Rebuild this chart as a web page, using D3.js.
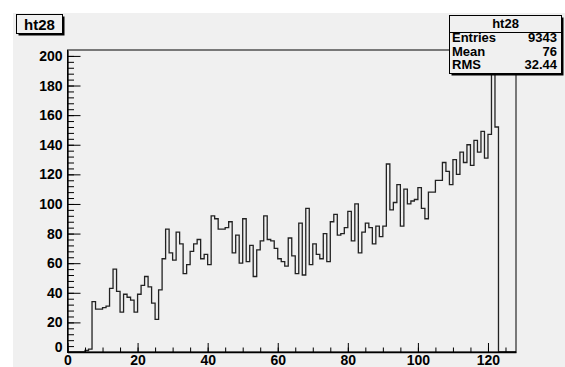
<!DOCTYPE html>
<html><head><meta charset="utf-8">
<script src="https://cdn.jsdelivr.net/npm/d3@7"></script>
<style>
body{margin:0;background:#fff;}
svg{display:block;}
</style></head><body>
<svg id="c" width="565" height="367"></svg>
<script>
// ---- data ----
const histName = "ht28";
const xDomain = [0, 128];
const yDomain = [0, 204];
const counts = [
  0,0,0,0,0,1,2,34,29,29,
  30,31,43,56,41,27,39,37,35,27,
  39,45,51,44,33,22,42,63,83,67,
  62,81,73,53,59,68,73,76,63,66,
  59,92,90,83,83,84,88,67,79,60,
  90,61,72,51,69,75,92,76,75,70,
  63,61,58,77,65,53,87,52,97,59,
  73,66,63,80,61,88,93,79,80,84,
  95,75,100,67,81,87,84,73,85,78,
  85,127,96,101,113,85,110,100,102,103,
  111,97,90,108,108,116,116,128,122,113,
  130,120,135,128,140,126,143,135,149,131,
  147,194,152,0,0,0,0,0
];
const xTicks = [0,20,40,60,80,100,120];
const yTicks = [0,20,40,60,80,100,120,140,160,180,200];
const statLabels = ["Entries","Mean","RMS"];
const statValues = ["9343","76","32.44"];

// ---- drawing ----
const FONT = "'Liberation Sans', Arial, Helvetica, sans-serif";
const BG = "#f0f0f0";
const svg = d3.select("#c");
svg.append("rect").attr("x",13).attr("y",13).attr("width",552).attr("height",354).attr("fill",BG);

const x = d3.scaleLinear().domain(xDomain).range([67.5,516]);
const y = d3.scaleLinear().domain(yDomain).range([352,50]);

// histogram outline
const pts = [[xDomain[0],0]];
counts.forEach((c,i)=>{ pts.push([i,c]); pts.push([i+1,c]); });
pts.push([xDomain[1],0]);
svg.append("path")
  .attr("d", d3.line().x(d=>x(d[0])).y(d=>y(d[1]))(pts))
  .attr("fill","none").attr("stroke","#222").attr("stroke-width",1.3);

// frame
svg.append("rect").attr("x",x(xDomain[0])).attr("y",y(yDomain[1]))
  .attr("width",x(xDomain[1])-x(xDomain[0])).attr("height",y(0)-y(yDomain[1]))
  .attr("fill","none").attr("stroke","#000").attr("stroke-width",1);

function styleAxis(g){
  g.attr("font-family",FONT).attr("font-size",14).attr("font-weight","bold");
  g.selectAll("line").attr("stroke","#000");
  g.selectAll("text").attr("fill","#000");
  g.select(".domain").attr("stroke","#000").attr("stroke-width",1.3);
}

// y axis
const gyMinor = svg.append("g").attr("transform",`translate(${x(0)},0)`)
  .call(d3.axisLeft(y).tickValues(d3.range(0,201,4)).tickSize(-6.5).tickFormat(""));
gyMinor.select(".domain").remove();
gyMinor.selectAll("line").attr("stroke","#000");
const gy = svg.append("g").attr("transform",`translate(${x(0)},0)`)
  .call(d3.axisLeft(y).tickValues(yTicks).tickSize(-13).tickPadding(5).tickSizeOuter(0).tickFormat(d3.format("d")));
styleAxis(gy);
gy.selectAll(".tick text").filter(d=>d===0).attr("transform","translate(0,-5)");

// x axis
const gxMinor = svg.append("g").attr("transform",`translate(0,${y(0)})`)
  .call(d3.axisBottom(x).tickValues(d3.range(0,129,5)).tickSize(-4.5).tickFormat(""));
gxMinor.select(".domain").remove();
gxMinor.selectAll("line").attr("stroke","#000");
const gx = svg.append("g").attr("transform",`translate(0,${y(0)})`)
  .call(d3.axisBottom(x).tickValues(xTicks).tickSize(-9).tickPadding(3.5).tickSizeOuter(0).tickFormat(d3.format("d")));
styleAxis(gx);

// title box
function shadowBox(x0,y0,w,h){
  svg.append("rect").attr("x",x0+2).attr("y",y0+2).attr("width",w).attr("height",h).attr("fill","#000");
  svg.append("rect").attr("x",x0).attr("y",y0).attr("width",w).attr("height",h)
    .attr("fill",BG).attr("stroke","#000").attr("stroke-width",1);
}
shadowBox(16.5,14.5,46,19);
svg.append("text").attr("x",39.5).attr("y",29.5).attr("text-anchor","middle")
  .attr("font-family",FONT).attr("font-weight","bold").attr("font-size",15).text(histName);

// stats box
shadowBox(449.5,15.5,112,58);
svg.append("line").attr("x1",449.5).attr("x2",561.5).attr("y1",32.5).attr("y2",32.5).attr("stroke","#000");
svg.append("text").attr("x",505.5).attr("y",28).attr("text-anchor","middle")
  .attr("font-family",FONT).attr("font-weight","bold").attr("font-size",13).text(histName);
statLabels.forEach((s,i)=>{
  const yy = 42 + i*13.5;
  svg.append("text").attr("x",452).attr("y",yy).attr("font-family",FONT).attr("font-weight","bold").attr("font-size",13).text(s);
  svg.append("text").attr("x",557).attr("y",yy).attr("text-anchor","end").attr("font-family",FONT).attr("font-weight","bold").attr("font-size",13).text(statValues[i]);
});
</script>
</body></html>
